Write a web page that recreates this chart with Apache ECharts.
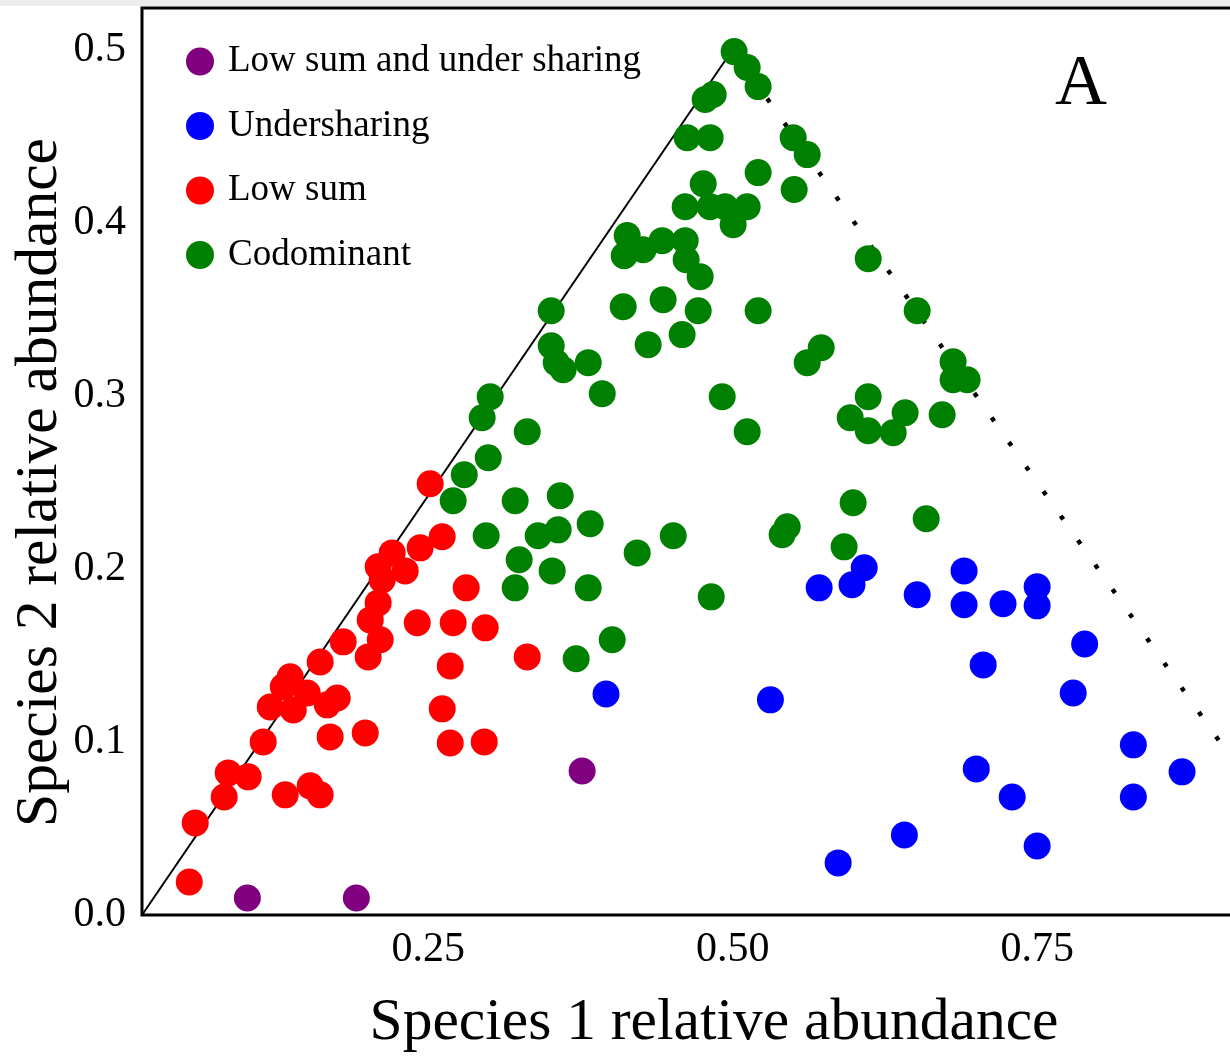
<!DOCTYPE html>
<html><head><meta charset="utf-8">
<script src="https://cdn.jsdelivr.net/npm/echarts@6/dist/echarts.min.js"></script>
<style>html,body{margin:0;padding:0;background:#fff}#c{width:1230px;height:1057px}</style>
</head><body><div id="c"></div>
<script>
// ---- data (Species 1 relative abundance, Species 2 relative abundance) ----
const lowSumUnderSharing = [[0.1015,0.0098],[0.191,0.0098],[0.3764,0.0832]];
const underSharing = [
  [0.396,0.1277],[0.531,0.1243],[0.571,0.189],[0.598,0.1908],[0.608,0.2006],
  [0.6515,0.185],[0.690,0.1988],[0.690,0.1792],[0.722,0.1798],[0.750,0.1896],
  [0.750,0.1786],[0.789,0.1566],[0.7057,0.1445],[0.7796,0.1283],[0.829,0.0983],
  [0.869,0.0827],[0.829,0.0682],[0.700,0.0844],[0.7295,0.0682],[0.641,0.0462],
  [0.5866,0.0301],[0.750,0.0399]
];
const lowSum = [
  [0.2516,0.2491],[0.2615,0.2185],[0.2434,0.2121],[0.2311,0.1988],[0.2204,0.2092],
  [0.2089,0.2012],[0.2122,0.1936],[0.2812,0.189],[0.2089,0.1803],[0.2024,0.1705],
  [0.241,0.1688],[0.2705,0.1688],[0.2968,0.1659],[0.2106,0.159],[0.1802,0.1578],
  [0.2007,0.1491],[0.3313,0.1491],[0.2681,0.1439],[0.1613,0.1462],[0.1367,0.1376],
  [0.131,0.1318],[0.1507,0.1283],[0.1753,0.1254],[0.1671,0.1214],[0.1203,0.1202],
  [0.1392,0.1185],[0.2615,0.1191],[0.2681,0.0994],[0.296,0.1],[0.1695,0.1029],
  [0.1983,0.1052],[0.1145,0.1],[0.0858,0.0821],[0.1022,0.0798],[0.0825,0.0682],
  [0.0587,0.0532],[0.0538,0.0191],[0.1326,0.0694],[0.1531,0.0746],[0.1613,0.0694]
];
const codominant = [
  [0.5012,0.4988],[0.5119,0.4896],[0.5209,0.4786],[0.4774,0.4711],[0.484,0.474],
  [0.4626,0.4491],[0.4815,0.4491],[0.5497,0.4491],[0.5612,0.4393],[0.5209,0.4289],
  [0.5505,0.4191],[0.4758,0.4225],[0.461,0.4092],[0.4815,0.4092],[0.4938,0.4092],
  [0.5119,0.4092],[0.5004,0.3988],[0.4134,0.3925],[0.4109,0.3809],[0.4265,0.3844],
  [0.4421,0.3896],[0.461,0.3896],[0.4618,0.3786],[0.4733,0.3688],[0.6113,0.3792],
  [0.4101,0.3514],[0.4429,0.3555],[0.4717,0.3491],[0.5209,0.3491],[0.4585,0.3353],
  [0.4306,0.3295],[0.351,0.3491],[0.351,0.3289],[0.3551,0.3191],[0.3608,0.315],
  [0.3814,0.3191],[0.3929,0.3012],[0.4914,0.2994],[0.5119,0.2792],[0.5727,0.3277],
  [0.5612,0.3191],[0.6515,0.3491],[0.681,0.3197],[0.681,0.3092],[0.6925,0.3092],
  [0.6113,0.2994],[0.5965,0.2873],[0.6113,0.2798],[0.6318,0.2786],[0.6416,0.2902],
  [0.672,0.289],[0.3009,0.2994],[0.2943,0.2873],[0.3313,0.2792],[0.2993,0.2642],
  [0.2796,0.2543],[0.2705,0.2393],[0.3214,0.2393],[0.3584,0.2422],[0.2976,0.2191],
  [0.3403,0.2191],[0.3567,0.2225],[0.383,0.226],[0.3247,0.2052],[0.3518,0.1988],
  [0.3214,0.189],[0.3814,0.189],[0.4216,0.2092],[0.4512,0.2191],[0.4824,0.1838],
  [0.4011,0.159],[0.3715,0.148],[0.5989,0.2382],[0.6589,0.2289],[0.5448,0.2243],
  [0.5406,0.2197],[0.5915,0.2127]
];
const boundaryLine = [[0.015,0],[0.5,0.5]];      // solid reference line
const sumOneLine = [[0.5,0.5],[0.95,0.05]];      // dotted line: x + y = 1
const xTicks = [0.25,0.5,0.75];
const yTicks = [0,0.1,0.2,0.3,0.4,0.5];
const seriesNames = ['Low sum and under sharing','Undersharing','Low sum','Codominant'];
const seriesColors = ['#800080','#0000ff','#ff0000','#008000'];

const SERIF = '"Liberation Serif", "Times New Roman", serif';
const chart = echarts.init(document.getElementById('c'), null, {renderer:'canvas'});
const scatter = (name, data, color) => ({
  name, type:'scatter', data, symbol:'circle', symbolSize:27,
  itemStyle:{color, opacity:1}, emphasis:{disabled:true}
});
chart.setOption({
  animation:false,
  backgroundColor:'#fff',
  grid:{left:142, top:8, width:1090, height:907, containLabel:false, outerBoundsMode:'none',
        show:true, borderColor:'#000', borderWidth:3, backgroundColor:'transparent'},
  xAxis:{
    type:'value', min:0.015, max:0.91,
    axisLine:{show:false}, axisTick:{show:false}, splitLine:{show:false},
    axisLabel:{customValues:xTicks, formatter:v=>v.toFixed(2), fontFamily:SERIF, fontSize:42, color:'#000', margin:14},
    name:'Species 1 relative abundance', nameLocation:'middle', nameGap:78,
    nameTextStyle:{fontFamily:SERIF, fontSize:59.5, color:'#000', padding:[0,0,0,54]}
  },
  yAxis:{
    type:'value', min:0, max:0.524,
    axisLine:{show:false}, axisTick:{show:false}, splitLine:{show:false},
    axisLabel:{customValues:yTicks, formatter:v=>v.toFixed(1), fontFamily:SERIF, fontSize:42, color:'#000', margin:16},
    name:'Species 2 relative abundance', nameLocation:'middle', nameGap:72, nameMoveOverlap:false,
    nameTextStyle:{fontFamily:SERIF, fontSize:59.5, color:'#000', padding:[0,42,0,0]}
  },
  legend:{
    data:seriesNames, orient:'vertical', left:181, top:38,
    itemWidth:46, itemHeight:28, itemGap:27.5, icon:'circle',
    textStyle:{fontFamily:SERIF, fontSize:37, color:'#000'}
  },
  graphic:[
    {type:'rect', shape:{x:0,y:0,width:1230,height:6}, style:{fill:'#ececec'}, silent:true},
    {type:'text', x:1081, y:85, style:{text:'A', font:'72px '+SERIF, fill:'#000', textAlign:'center', textVerticalAlign:'middle'}}
  ],
  series:[
    {type:'line', data:boundaryLine, symbol:'none', lineStyle:{color:'#000', width:2}, silent:true, z:1},
    {type:'line', data:sumOneLine, symbol:'none', lineStyle:{color:'#000', width:4.5, type:[4.5,25.5], cap:'butt'}, silent:true, z:1},
    scatter(seriesNames[3], codominant, seriesColors[3]),
    scatter(seriesNames[2], lowSum, seriesColors[2]),
    scatter(seriesNames[1], underSharing, seriesColors[1]),
    scatter(seriesNames[0], lowSumUnderSharing, seriesColors[0])
  ]
});
</script></body></html>
